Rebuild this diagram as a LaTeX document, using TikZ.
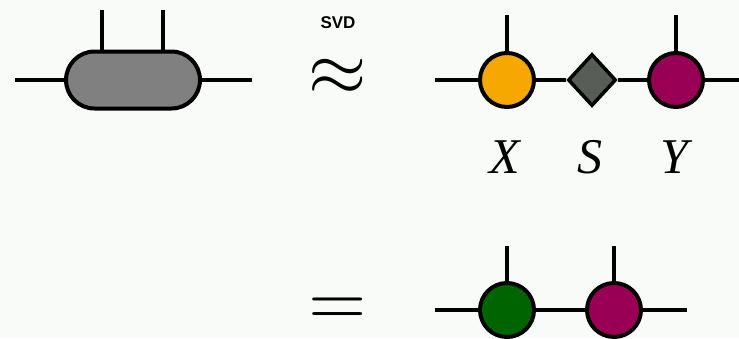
\documentclass[tikz,border=0pt]{standalone}
\usepackage{fontspec}
\newfontfamily\svdfont{Liberation Sans}
\newfontfamily\labfont{Liberation Serif}
\usetikzlibrary{shapes.geometric,shapes.misc}
\definecolor{bg}{HTML}{F9FBF9}
\definecolor{pillgray}{HTML}{808080}
\definecolor{xorange}{HTML}{F7A800}
\definecolor{ymag}{HTML}{990055}
\definecolor{sgray}{HTML}{585D58}
\definecolor{zgreen}{HTML}{006400}
\begin{document}
\begin{tikzpicture}[x=1pt,y=-1pt,
  leg/.style={line width=3.5pt},
  tensor/.style={circle,draw=black,line width=4pt,minimum size=54pt,inner sep=0pt},
  pill/.style={rounded rectangle,draw=black,line width=4pt,fill=pillgray,minimum width=134pt,minimum height=57pt,inner sep=0pt},
  dia/.style={diamond,draw=black,line width=3.5pt,fill=sgray,minimum width=48pt,minimum height=52pt,inner sep=0pt},
  lab/.style={font=\labfont\itshape\fontsize{50}{50}\selectfont,inner sep=0pt}]
\fill[bg] (0,0) rectangle (739,338);
\useasboundingbox (0,0) rectangle (739,338);
% left pill
\node[pill] (A) at (133,80) {};
\coordinate (al) at (15,80);
\coordinate (ar) at (252,80);
\coordinate (a1) at (102,10);
\coordinate (a2) at (163,10);
\draw[leg] (al) -- (A.west);
\draw[leg] (A.east) -- (ar);
\draw[leg] (a1) -- (a1 |- A.north);
\draw[leg] (a2) -- (a2 |- A.north);
% SVD approx
\node[font=\svdfont\bfseries\fontsize{17}{17}\selectfont] (svd) at (338,23) {SVD};
\node[inner sep=0pt] (apx) at (338,77.5) {\scalebox{7.5}{$\approx$}};
% top right chain
\coordinate (bl) at (435,80);
\coordinate (br) at (739,80);
\node[tensor,fill=xorange] (X) at (507,80) {};
\node[dia] (S) at (592,80) {};
\node[tensor,fill=ymag] (Y) at (676,80) {};
\coordinate (xt) at (507,15);
\coordinate (yt) at (676,15);
\draw[leg] (bl) -- (X.west);
\draw[leg] (X.east) -- (S.west);
\draw[leg] (S.east) -- (Y.west);
\draw[leg] (Y.east) -- (br);
\draw[leg] (xt) -- (X.north);
\draw[leg] (yt) -- (Y.north);
\node[lab,anchor=base] (lx) at (505,173) {X};
\node[lab,anchor=base] (ls) at (590,173) {S};
\node[lab,anchor=base] (ly) at (674,173) {Y};
% bottom
\node[inner sep=0pt] (eq) at (338,311.5) {\scalebox{7.5}{$=$}};
\coordinate (cl) at (435,310);
\coordinate (cr) at (687,310);
\node[tensor,fill=zgreen] (G) at (507,310) {};
\node[tensor,fill=ymag] (M) at (614,310) {};
\coordinate (gt) at (507,246);
\coordinate (mt) at (614,246);
\draw[leg] (cl) -- (G.west);
\draw[leg] (G.east) -- (M.west);
\draw[leg] (M.east) -- (cr);
\draw[leg] (gt) -- (G.north);
\draw[leg] (mt) -- (M.north);
\end{tikzpicture}
\end{document}
